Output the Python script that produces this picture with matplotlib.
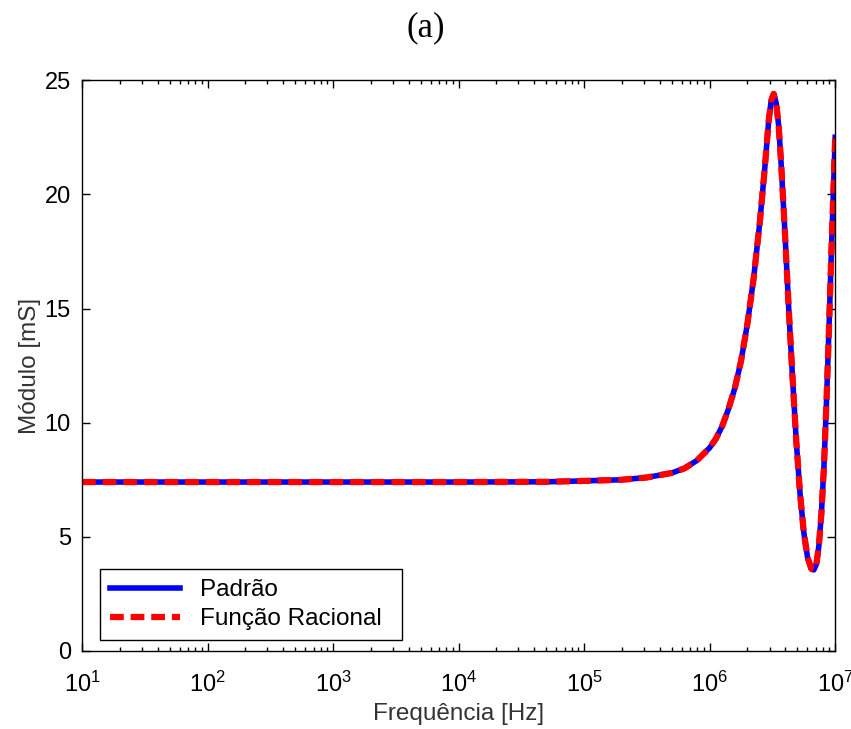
import numpy as np
import matplotlib
matplotlib.use('Agg')
import matplotlib.pyplot as plt
from matplotlib.ticker import LogLocator, NullFormatter

plt.rcParams['font.family'] = ['Liberation Sans', 'DejaVu Sans']
plt.rcParams['mathtext.default'] = 'regular'

# frequency as log10(Hz), module in mS
log_freq = [1.0, 2.0, 3.0, 4.0, 4.7, 5.0, 5.3, 5.5, 5.7, 5.8, 5.9, 6.0, 6.05,
            6.1, 6.15, 6.2, 6.25, 6.3, 6.35, 6.4, 6.44, 6.47, 6.49, 6.51,
            6.53, 6.55, 6.57, 6.6, 6.63, 6.66, 6.69, 6.72, 6.75, 6.78, 6.81,
            6.83, 6.85, 6.87, 6.89, 6.91, 6.93, 6.95, 6.97, 6.99, 7.0]
padrao = [7.40, 7.40, 7.40, 7.40, 7.41, 7.45, 7.50, 7.60, 7.80, 8.00, 8.35,
          8.90, 9.30, 9.85, 10.6, 11.5, 12.7, 14.3, 16.3, 18.8, 21.2, 23.2,
          24.1, 24.4, 24.0, 23.0, 21.3, 18.3, 15.0, 12.0, 9.2, 6.9, 5.2, 4.1,
          3.6, 3.55, 3.8, 4.6, 6.0, 8.0, 10.8, 14.0, 17.5, 20.8, 22.5]
racional = list(padrao)

freq = 10 ** np.array(log_freq)

fig = plt.figure(figsize=(8.51, 7.29), dpi=100)
ax = fig.add_axes([0.0964, 0.107, 0.885, 0.783])

ax.plot(freq, padrao, color='blue', lw=4, label='Padrão')
ax.plot(freq, racional, color='red', lw=4.5, ls=(0, (2.2, 1.1)), label='Função Racional')

ax.set_xscale('log')
ax.set_xlim(1e1, 1e7)
ax.set_ylim(0, 25)
ax.set_yticks([0, 5, 10, 15, 20, 25])
ax.xaxis.set_major_locator(LogLocator(base=10, numticks=10))
ax.xaxis.set_minor_locator(LogLocator(base=10, subs=np.arange(2, 10), numticks=20))
ax.xaxis.set_minor_formatter(NullFormatter())

ax.tick_params(which='both', direction='in', top=True, right=True, labelsize=17)
ax.tick_params(axis='x', pad=15)
ax.tick_params(axis='y', pad=8)
ax.tick_params(which='major', length=6, width=1)
ax.tick_params(which='minor', length=3, width=1)
for s in ax.spines.values():
    s.set_linewidth(1)

ax.set_xlabel('Frequência [Hz]', fontsize=17.5, color='#333333', labelpad=4)
ax.set_ylabel('Módulo [mS]', fontsize=17.5, color='#333333', labelpad=3)

fig.text(0.5, 0.962, '(a)', ha='center', va='center', fontsize=25,
         family=['Liberation Serif', 'DejaVu Serif'])

leg = ax.legend(loc='lower left', bbox_to_anchor=(0.024, 0.019, 0.401, 0.14),
                mode='expand', fontsize=17.5,
                fancybox=False, framealpha=1, edgecolor='black',
                handlelength=2.9, handletextpad=0.8, borderpad=0.4,
                labelspacing=0.3, borderaxespad=0)
leg.get_frame().set_linewidth(1)

fig.savefig('out.png', dpi=100)
